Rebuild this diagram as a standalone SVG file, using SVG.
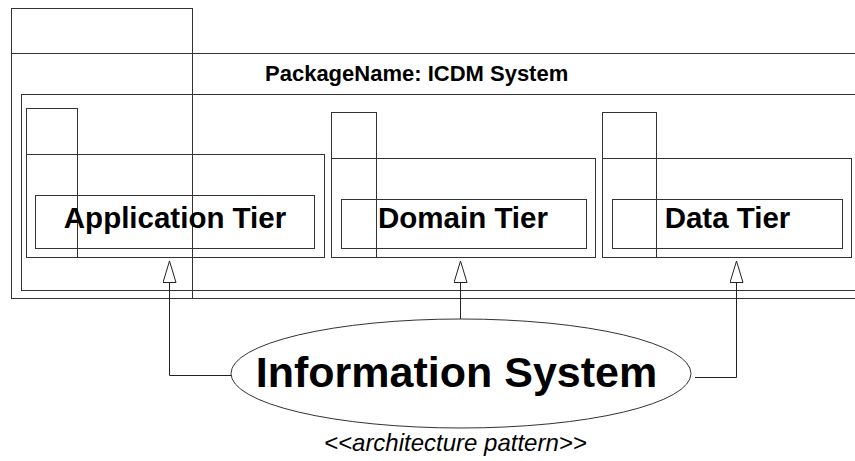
<svg xmlns="http://www.w3.org/2000/svg" width="855" height="461" viewBox="0 0 855 461">
<style>
.ln{fill:none;stroke:#222;stroke-width:1}
.bx{fill:none;stroke:#333;stroke-width:1}
.t{font-family:"Liberation Sans",Arial,sans-serif;font-weight:bold;fill:#000}
.tier{font-size:29.5px;text-anchor:middle}
</style>
<defs>
<marker id="tri" markerUnits="userSpaceOnUse" markerWidth="24" markerHeight="16" refX="22" refY="7" orient="auto">
<path d="M0.5,0.5 L22,7 L0.5,13.5 Z" fill="#fff" stroke="#222" stroke-width="1"/>
</marker>
</defs>
<rect width="855" height="461" fill="#fff"/>
<g id="pkg-icdm">
<rect class="bx" x="11.5" y="8.5" width="181" height="290"/>
<rect class="bx" x="11.5" y="53.5" width="860" height="245"/>
<rect class="bx" x="21.5" y="94.5" width="850" height="196"/>
<text class="t" x="265" y="80.5" font-size="22">PackageName: ICDM System</text>
</g>
<g id="app-tier">
<rect class="bx" x="26.5" y="154.5" width="298" height="103"/>
<rect class="bx" x="26.5" y="108.5" width="51" height="149"/>
<rect class="bx" x="35.5" y="195.5" width="279" height="53"/>
<text class="t tier" x="175" y="227.5">Application Tier</text>
</g>
<g id="domain-tier">
<rect class="bx" x="331.5" y="158.5" width="264" height="99"/>
<rect class="bx" x="331.5" y="112.5" width="45" height="145"/>
<rect class="bx" x="341.5" y="199.5" width="245" height="49"/>
<text class="t tier" x="463" y="228">Domain Tier</text>
</g>
<g id="data-tier">
<rect class="bx" x="602.5" y="158.5" width="249" height="99"/>
<rect class="bx" x="602.5" y="112.5" width="54" height="145"/>
<rect class="bx" x="612.5" y="199.5" width="230" height="49"/>
<text class="t tier" x="727.5" y="228">Data Tier</text>
</g>
<g id="connectors">
<path class="ln" d="M231,375.5 H169.5 V261" marker-end="url(#tri)"/>
<path class="ln" d="M460.5,319 V261" marker-end="url(#tri)"/>
<path class="ln" d="M695,377.5 H736.5 V261" marker-end="url(#tri)"/>
</g>
<g id="information-system">
<ellipse cx="461" cy="373.5" rx="230" ry="54.5" fill="#fff" stroke="#333" stroke-width="1"/>
<text class="t" x="456.5" y="386.5" font-size="43" text-anchor="middle">Information System</text>
<text x="324" y="451" font-family="'Liberation Sans',Arial,sans-serif" font-style="italic" font-size="24" fill="#000">&lt;&lt;architecture pattern&gt;&gt;</text>
</g>
</svg>
